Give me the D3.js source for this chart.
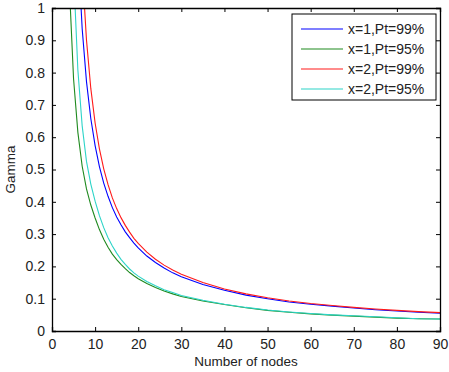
<!DOCTYPE html>
<html>
<head>
<meta charset="utf-8">
<script src="https://cdn.jsdelivr.net/npm/d3@7"></script>
<style>
  body { margin: 0; background: #fff; }
  text { font-family: "Liberation Sans", Arial, sans-serif; fill: #222; }
</style>
</head>
<body>
<div id="grafica"></div>
<script>
// nodos (eje x) y valores de gamma
const nodos = [4,5,6,7,8,9,10,11,12,13,14,15,16,17,18,19,20,22,24,26,28,30,35,40,45,50,55,60,65,70,75,80,85,90];

const azul = [null,null,1.189,0.936,0.772,0.658,0.574,0.509,0.458,0.417,0.382,0.353,0.329,0.307,0.289,0.272,0.257,0.232,0.212,0.195,0.180,0.168,0.144,0.126,0.111,0.100,0.090,0.083,0.077,0.071,0.066,0.062,0.058,0.055];
const verde = [1.075,0.781,0.615,0.510,0.440,0.390,0.350,0.314,0.284,0.259,0.238,0.221,0.206,0.193,0.181,0.171,0.162,0.147,0.135,0.124,0.115,0.107,0.093,0.082,0.072,0.064,0.058,0.053,0.049,0.046,0.043,0.040,0.038,0.037];
const rojo = [null,null,null,1.122,0.901,0.751,0.644,0.564,0.502,0.453,0.412,0.379,0.351,0.327,0.306,0.287,0.271,0.244,0.222,0.204,0.189,0.176,0.150,0.130,0.115,0.103,0.093,0.085,0.079,0.073,0.068,0.064,0.060,0.057];
const cian = [null,1.111,0.808,0.635,0.525,0.455,0.402,0.357,0.320,0.289,0.263,0.241,0.222,0.206,0.192,0.180,0.170,0.153,0.140,0.128,0.119,0.110,0.095,0.083,0.073,0.065,0.059,0.054,0.050,0.047,0.044,0.041,0.038,0.037];

const nombres = ["x=1,Pt=99%", "x=1,Pt=95%", "x=2,Pt=99%", "x=2,Pt=95%"];
const colores = ["#0000ff", "#1f8a1f", "#ff1a1a", "#2dd4c8"];
const xTicks = [0,10,20,30,40,50,60,70,80,90];
const yTicks = [0,0.1,0.2,0.3,0.4,0.5,0.6,0.7,0.8,0.9,1];

const width = 449, height = 372;
const m = {left: 52, right: 9, top: 8, bottom: 41};

let svg = d3.select("#grafica").append("svg")
    .attr("width", width)
    .attr("height", height);

const x = d3.scaleLinear().domain([0, 90]).range([m.left, width - m.right]);
const y = d3.scaleLinear().domain([0, 1]).range([height - m.bottom, m.top]);

svg.append("clipPath").attr("id", "recorte")
  .append("rect")
    .attr("x", m.left).attr("y", m.top)
    .attr("width", width - m.left - m.right)
    .attr("height", height - m.top - m.bottom);

let series = [azul, verde, rojo, cian];

let linea = d3.line()
    .defined(d => d[1] != null)
    .x(d => x(d[0]))
    .y(d => y(d[1]));

series.forEach((s, i) => {
  svg.append("path")
    .datum(nodos.map((n, j) => [n, s[j]]))
    .attr("clip-path", "url(#recorte)")
    .attr("d", linea)
    .attr("fill", "none")
    .attr("stroke", colores[i])
    .attr("stroke-width", 1.1);
});

// ejes con marcas hacia adentro (estilo matlab)
const tk = 4;
svg.append("g")
  .attr("transform", `translate(0,${height - m.bottom})`)
  .call(d3.axisBottom(x).tickValues(xTicks).tickSize(-tk).tickPadding(8).tickFormat(d3.format("d")));
svg.append("g")
  .attr("transform", `translate(0,${m.top})`)
  .call(d3.axisTop(x).tickValues(xTicks).tickSize(-tk).tickFormat(""));
svg.append("g")
  .attr("transform", `translate(${m.left},0)`)
  .call(d3.axisLeft(y).tickValues(yTicks).tickSize(-tk).tickPadding(7).tickFormat(d => d == 0 || d == 1 ? d : d3.format(".1f")(d)));
svg.append("g")
  .attr("transform", `translate(${width - m.right},0)`)
  .call(d3.axisRight(y).tickValues(yTicks).tickSize(-tk).tickFormat(""));

svg.selectAll(".domain").attr("stroke", "#000").attr("stroke-width", 1.3);
svg.selectAll(".tick line").attr("stroke", "#000");
svg.selectAll(".tick text").style("font-size", "14px").attr("fill", "#222");

svg.append("text")
  .attr("x", (m.left + width - m.right) / 2)
  .attr("y", 366)
  .attr("text-anchor", "middle")
  .style("font-size", "13.5px")
  .text("Number of nodes");

svg.append("text")
  .attr("transform", `translate(15,${(m.top + height - m.bottom) / 2}) rotate(-90)`)
  .attr("text-anchor", "middle")
  .style("font-size", "13.5px")
  .text("Gamma");

// leyenda
let ley = svg.append("g").attr("transform", "translate(292,14)");
ley.append("rect")
  .attr("width", 144).attr("height", 86)
  .attr("fill", "#fff").attr("stroke", "#000").attr("stroke-width", 1);

nombres.forEach((nm, i) => {
  let yy = 15 + i * 20;
  ley.append("line")
    .attr("x1", 9).attr("x2", 51)
    .attr("y1", yy).attr("y2", yy)
    .attr("stroke", colores[i]).attr("stroke-width", 1.1);
  ley.append("text")
    .attr("x", 56).attr("y", yy + 5)
    .style("font-size", "14px")
    .text(nm);
});
</script>
</body>
</html>
